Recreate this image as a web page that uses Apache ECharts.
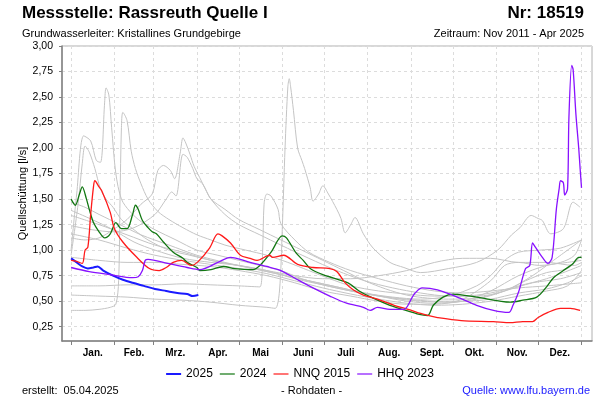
<!DOCTYPE html>
<html>
<head>
<meta charset="utf-8">
<script src="https://cdn.jsdelivr.net/npm/echarts@6/dist/echarts.min.js"></script>
<style>
  html, body { margin: 0; padding: 0; background: #fff; }
  #main { width: 600px; height: 400px; }
</style>
</head>
<body>
<div id="main"></div>
<script>
// day of year (0 = 1 Jan) / discharge in l/s
const monthStarts = [0, 31, 59, 90, 120, 151, 181, 212, 243, 273, 304, 334, 365];
const monthMids = [15.5, 45, 74.5, 105, 135.5, 166, 196.5, 227.5, 258, 288.5, 319, 349.5];
const monthLabels = ["Jan.", "Feb.", "Mrz.", "Apr.", "Mai", "Juni", "Juli", "Aug.", "Sept.", "Okt.", "Nov.", "Dez."];
const yTicks = [0.25, 0.5, 0.75, 1.0, 1.25, 1.5, 1.75, 2.0, 2.25, 2.5, 2.75, 3.0];

const q2025 = [[0, 0.92], [4, 0.88], [8, 0.84], [12, 0.82], [16, 0.83], [19, 0.84], [23, 0.80], [30, 0.75], [37, 0.71], [44, 0.68], [52, 0.65], [60, 0.62], [68, 0.60], [76, 0.58], [83, 0.57], [87, 0.55], [91, 0.56]];

const q2024 = [[0, 1.50], [3, 1.44], [6, 1.55], [8, 1.62], [11, 1.50], [13, 1.40], [16, 1.27], [20, 1.18], [24, 1.12], [28, 1.16], [32, 1.27], [36, 1.21], [40, 1.21], [44, 1.35], [46, 1.44], [48, 1.40], [51, 1.29], [55, 1.22], [58, 1.18], [61, 1.16], [66, 1.08], [73, 0.98], [80, 0.92], [83, 0.88], [90, 0.83], [92, 0.80], [100, 0.81], [109, 0.84], [117, 0.82], [130, 0.81], [135, 0.85], [143, 0.98], [151, 1.14], [154, 1.12], [161, 0.97], [166, 0.90], [171, 0.82], [180, 0.76], [198, 0.68], [206, 0.60], [216, 0.53], [228, 0.46], [237, 0.42], [249, 0.37], [255, 0.36], [259, 0.46], [266, 0.54], [273, 0.57], [290, 0.54], [314, 0.49], [323, 0.51], [333, 0.54], [340, 0.64], [345, 0.73], [352, 0.80], [359, 0.87], [363, 0.93], [365, 0.93]];

const nnq2015 = [[0, 0.90], [4, 0.89], [8, 0.87], [10, 1.00], [12, 1.03], [14, 1.35], [16, 1.62], [17, 1.68], [20, 1.62], [22, 1.58], [28, 1.37], [31, 1.21], [37, 1.08], [47, 0.93], [56, 0.82], [63, 0.80], [68, 0.83], [73, 0.88], [79, 0.90], [86, 0.85], [91, 0.89], [99, 1.02], [105, 1.16], [108, 1.14], [114, 1.07], [121, 0.95], [128, 0.92], [133, 0.90], [142, 0.95], [144, 0.93], [152, 0.95], [162, 0.86], [173, 0.83], [185, 0.82], [190, 0.79], [196, 0.68], [202, 0.61], [209, 0.56], [219, 0.52], [231, 0.46], [241, 0.42], [250, 0.38], [255, 0.36], [262, 0.34], [279, 0.31], [302, 0.30], [314, 0.29], [323, 0.30], [330, 0.30], [334, 0.34], [341, 0.39], [350, 0.43], [357, 0.43], [364, 0.41]];

const hhq2023 = [[0, 0.83], [13, 0.79], [28, 0.76], [44, 0.73], [48, 0.74], [51, 0.80], [53, 0.90], [55, 0.91], [69, 0.87], [83, 0.83], [92, 0.81], [105, 0.88], [114, 0.93], [128, 0.88], [140, 0.84], [150, 0.80], [162, 0.71], [173, 0.63], [185, 0.55], [197, 0.48], [209, 0.44], [214, 0.41], [219, 0.44], [228, 0.42], [238, 0.42], [244, 0.54], [246, 0.58], [251, 0.63], [262, 0.61], [278, 0.53], [290, 0.46], [302, 0.41], [313, 0.39], [316, 0.46], [320, 0.59], [325, 0.82], [328, 0.85], [330, 1.07], [332, 1.03], [337, 0.93], [341, 0.87], [344, 0.93], [347, 1.40], [349, 1.60], [350, 1.68], [352, 1.66], [353, 1.54], [355, 1.60], [356, 2.30], [358, 2.81], [359, 2.77], [361, 2.33], [363, 2.00], [364, 1.80], [365, 1.61]];

const greyYears = [
  [[0, 1.00], [4, 1.55], [9, 2.12], [14, 2.07], [18, 1.88], [21, 1.86], [24, 2.45], [25, 2.59], [27, 2.52], [29, 2.20], [32, 1.75], [36, 1.50], [42, 1.38], [50, 1.28], [60, 1.20], [75, 1.10], [90, 1.00], [105, 0.95], [120, 0.90], [135, 0.85], [150, 0.80], [165, 0.72], [180, 0.66], [200, 0.60], [220, 0.55], [240, 0.52], [260, 0.50], [280, 0.50], [300, 0.52], [320, 0.58], [340, 0.62], [355, 0.68], [365, 0.75]],
  [[0, 0.95], [5, 1.45], [8, 1.85], [10, 2.02], [13, 1.96], [17, 1.80], [21, 1.60], [25, 1.50], [30, 1.42], [36, 1.30], [45, 1.20], [55, 1.10], [70, 1.00], [85, 0.95], [100, 0.90], [115, 0.86], [130, 0.82], [150, 0.76], [170, 0.70], [190, 0.64], [210, 0.58], [230, 0.53], [250, 0.50], [270, 0.49], [290, 0.52], [310, 0.60], [325, 0.70], [340, 0.78], [355, 0.82], [365, 0.95]],
  [[0, 0.41], [10, 0.41], [20, 0.42], [28, 0.44], [32, 0.47], [34, 0.70], [35, 1.50], [36, 2.20], [37, 2.35], [40, 2.27], [43, 1.97], [46, 1.80], [50, 1.65], [55, 1.50], [62, 1.38], [70, 1.30], [80, 1.22], [90, 1.15], [100, 1.10], [110, 1.05], [125, 1.00], [140, 0.95], [155, 0.88], [170, 0.80], [185, 0.72], [200, 0.65], [220, 0.60], [240, 0.57], [260, 0.55], [280, 0.55], [300, 0.58], [320, 0.65], [340, 0.72], [365, 0.85]],
  [[0, 1.12], [10, 1.10], [20, 1.12], [30, 1.20], [40, 1.30], [50, 1.45], [58, 1.55], [62, 1.78], [66, 1.83], [71, 1.78], [74, 1.70], [78, 1.95], [80, 2.10], [82, 2.05], [85, 1.94], [88, 1.82], [92, 1.71], [96, 1.60], [100, 1.50], [110, 1.40], [120, 1.30], [135, 1.20], [150, 1.10], [165, 1.00], [180, 0.90], [195, 0.80], [210, 0.70], [225, 0.62], [240, 0.56], [255, 0.53], [270, 0.52], [290, 0.53], [310, 0.60], [330, 0.68], [350, 0.72], [365, 0.78]],
  [[0, 1.24], [15, 1.20], [30, 1.18], [45, 1.22], [60, 1.35], [68, 1.50], [72, 1.57], [75, 1.53], [80, 1.94], [83, 1.91], [87, 1.80], [90, 1.70], [94, 1.65], [100, 1.50], [110, 1.35], [120, 1.25], [135, 1.15], [150, 1.05], [170, 0.92], [190, 0.80], [210, 0.70], [230, 0.63], [250, 0.58], [270, 0.55], [290, 0.55], [310, 0.60], [330, 0.75], [345, 0.90], [365, 1.10]],
  [[0, 0.56], [20, 0.55], [40, 0.54], [60, 0.52], [80, 0.51], [100, 0.49], [120, 0.46], [140, 0.44], [146, 0.43], [149, 0.60], [151, 1.20], [153, 2.00], [155, 2.60], [156, 2.68], [157, 2.60], [159, 2.37], [162, 2.00], [165, 1.88], [167, 1.80], [171, 1.61], [173, 1.48], [177, 1.55], [180, 1.63], [184, 1.55], [190, 1.40], [193, 1.31], [196, 1.17], [200, 1.25], [203, 1.32], [209, 1.16], [216, 1.02], [228, 0.88], [238, 0.83], [250, 0.78], [270, 0.82], [290, 0.88], [305, 1.00], [315, 1.15], [321, 1.22], [329, 1.34], [334, 1.31], [337, 1.29], [343, 1.16], [352, 1.21], [359, 1.47], [364, 1.42]],
  [[0, 0.65], [20, 0.65], [40, 0.66], [60, 0.66], [80, 0.67], [100, 0.66], [120, 0.65], [135, 0.64], [137, 1.00], [138, 1.45], [140, 1.55], [143, 1.53], [148, 1.40], [150, 1.26], [160, 1.10], [170, 0.98], [185, 0.88], [200, 0.80], [220, 0.72], [240, 0.65], [260, 0.60], [280, 0.58], [300, 0.60], [320, 0.63], [340, 0.65], [365, 0.68]],
  [[0, 1.47], [10, 1.42], [20, 1.35], [35, 1.25], [50, 1.15], [70, 1.05], [90, 0.95], [110, 0.88], [130, 0.82], [150, 0.76], [170, 0.70], [190, 0.64], [210, 0.58], [230, 0.54], [250, 0.52], [270, 0.55], [290, 0.65], [300, 0.75], [310, 0.90], [320, 0.98], [335, 1.00], [350, 1.02], [365, 1.10]],
  [[0, 1.39], [15, 1.30], [30, 1.20], [45, 1.08], [60, 1.00], [80, 0.92], [100, 0.88], [120, 0.85], [140, 0.80], [160, 0.72], [180, 0.66], [200, 0.60], [220, 0.55], [240, 0.50], [260, 0.48], [280, 0.50], [300, 0.60], [320, 0.75], [340, 0.85], [355, 0.88], [365, 0.90]],
  [[0, 1.16], [20, 1.10], [40, 1.02], [60, 0.95], [80, 0.90], [100, 0.86], [120, 0.82], [140, 0.77], [160, 0.70], [180, 0.63], [200, 0.57], [220, 0.52], [240, 0.48], [260, 0.46], [280, 0.47], [300, 0.50], [320, 0.55], [340, 0.60], [355, 0.65], [365, 0.80]],
  [[0, 0.93], [20, 0.90], [40, 0.88], [60, 0.88], [80, 0.86], [100, 0.84], [120, 0.80], [140, 0.75], [160, 0.68], [180, 0.60], [200, 0.55], [220, 0.50], [240, 0.47], [260, 0.47], [280, 0.52], [300, 0.70], [310, 0.85], [320, 0.88], [335, 0.85], [350, 0.88], [360, 0.95], [365, 1.10]],
  [[0, 1.34], [20, 1.25], [40, 1.15], [60, 1.05], [80, 0.98], [100, 0.90], [120, 0.85], [140, 0.80], [160, 0.75], [180, 0.72], [200, 0.72], [220, 0.75], [240, 0.80], [260, 0.88], [280, 0.92], [300, 0.92], [320, 0.88], [340, 0.88], [360, 0.85], [365, 0.88]]
];

const chart = echarts.init(document.getElementById("main"));

const greySeries = greyYears.map((d, i) => ({
  name: "grey" + i,
  type: "line",
  data: d,
  symbol: "none",
  smooth: 0.3,
  silent: true,
  lineStyle: { color: "#c4c4c4", width: 1 },
  z: 1
}));

function mainSeries(name, data, color, width) {
  return {
    name: name,
    type: "line",
    data: data,
    symbol: "none",
    smooth: 0.3,
    lineStyle: { color: color, width: width },
    itemStyle: { color: color },
    z: 3
  };
}

const thinIcon = "path://M0,0L15,0L15,1.2L0,1.2Z";
const thickIcon = "path://M0,0L15,0L15,2L0,2Z";

chart.setOption({
  animation: false,
  textStyle: { fontFamily: "Liberation Sans, Arial, sans-serif" },
  title: [
    { text: "Messstelle: Rassreuth Quelle I", left: 17, top: 0,
      textStyle: { fontSize: 17, fontWeight: "bold", color: "#000" } },
    { text: "Nr: 18519", right: 11, top: 0,
      textStyle: { fontSize: 17, fontWeight: "bold", color: "#000" } },
    { text: "Grundwasserleiter: Kristallines Grundgebirge", left: 17, top: 23,
      textStyle: { fontSize: 11, fontWeight: "normal", color: "#000" } },
    { text: "Zeitraum: Nov 2011 - Apr 2025", right: 11, top: 23,
      textStyle: { fontSize: 11, fontWeight: "normal", color: "#000" } },
    { text: "erstellt:  05.04.2025", left: 17, top: 380,
      textStyle: { fontSize: 11, fontWeight: "normal", color: "#000" } },
    { text: "- Rohdaten -", left: 276, top: 380,
      textStyle: { fontSize: 11, fontWeight: "normal", color: "#000" } },
    { text: "Quelle: www.lfu.bayern.de", right: 5, top: 380,
      textStyle: { fontSize: 11, fontWeight: "normal", color: "#1a1aff" } }
  ],
  legend: {
    data: [
      { name: "2025", icon: thickIcon },
      { name: "2024", icon: thinIcon },
      { name: "NNQ 2015", icon: thinIcon },
      { name: "HHQ 2023", icon: thinIcon }
    ],
    left: "center",
    top: 363,
    itemWidth: 15,
    itemHeight: 8,
    itemGap: 7,
    textStyle: { fontSize: 12, color: "#000" }
  },
  grid: {
    left: 62, right: 8, top: 46, bottom: 59,
    show: true, borderColor: "#b0b0b0", borderWidth: 1
  },
  xAxis: {
    type: "value",
    min: -6.5,
    max: 372.5,
    axisLine: { show: true, onZero: false, lineStyle: { color: "#808080", width: 1.5 } },
    axisTick: { show: true, length: 4, customValues: monthStarts, lineStyle: { color: "#808080" } },
    splitLine: { show: true, lineStyle: { color: "#dcdcdc", type: [3, 3] } },
    axisLabel: {
      customValues: monthMids,
      fontSize: 10,
      fontWeight: "bold",
      color: "#000",
      margin: 7,
      formatter: (v) => monthLabels[monthMids.indexOf(v)]
    }
  },
  yAxis: {
    type: "value",
    min: 0.11,
    max: 3.0,
    name: "Quellschüttung [l/s]",
    nameLocation: "middle",
    nameGap: 34,
    nameMoveOverlap: false,
    nameTextStyle: { fontSize: 11, color: "#000" },
    axisLine: { show: true, onZero: false, lineStyle: { color: "#808080", width: 1.5 } },
    axisTick: { show: true, length: 3, customValues: yTicks, lineStyle: { color: "#808080" } },
    splitLine: { show: true, lineStyle: { color: "#dcdcdc", type: [3, 3] } },
    axisLabel: {
      customValues: yTicks,
      fontSize: 10.5,
      color: "#000",
      margin: 9,
      formatter: (v) => v.toFixed(2).replace(".", ",")
    }
  },
  series: greySeries.concat([
    mainSeries("2025", q2025, "#1a1aff", 2),
    mainSeries("2024", q2024, "#117711", 1.3),
    mainSeries("NNQ 2015", nnq2015, "#ff1a1a", 1.3),
    mainSeries("HHQ 2023", hhq2023, "#8811ff", 1.3)
  ])
});
</script>
</body>
</html>
